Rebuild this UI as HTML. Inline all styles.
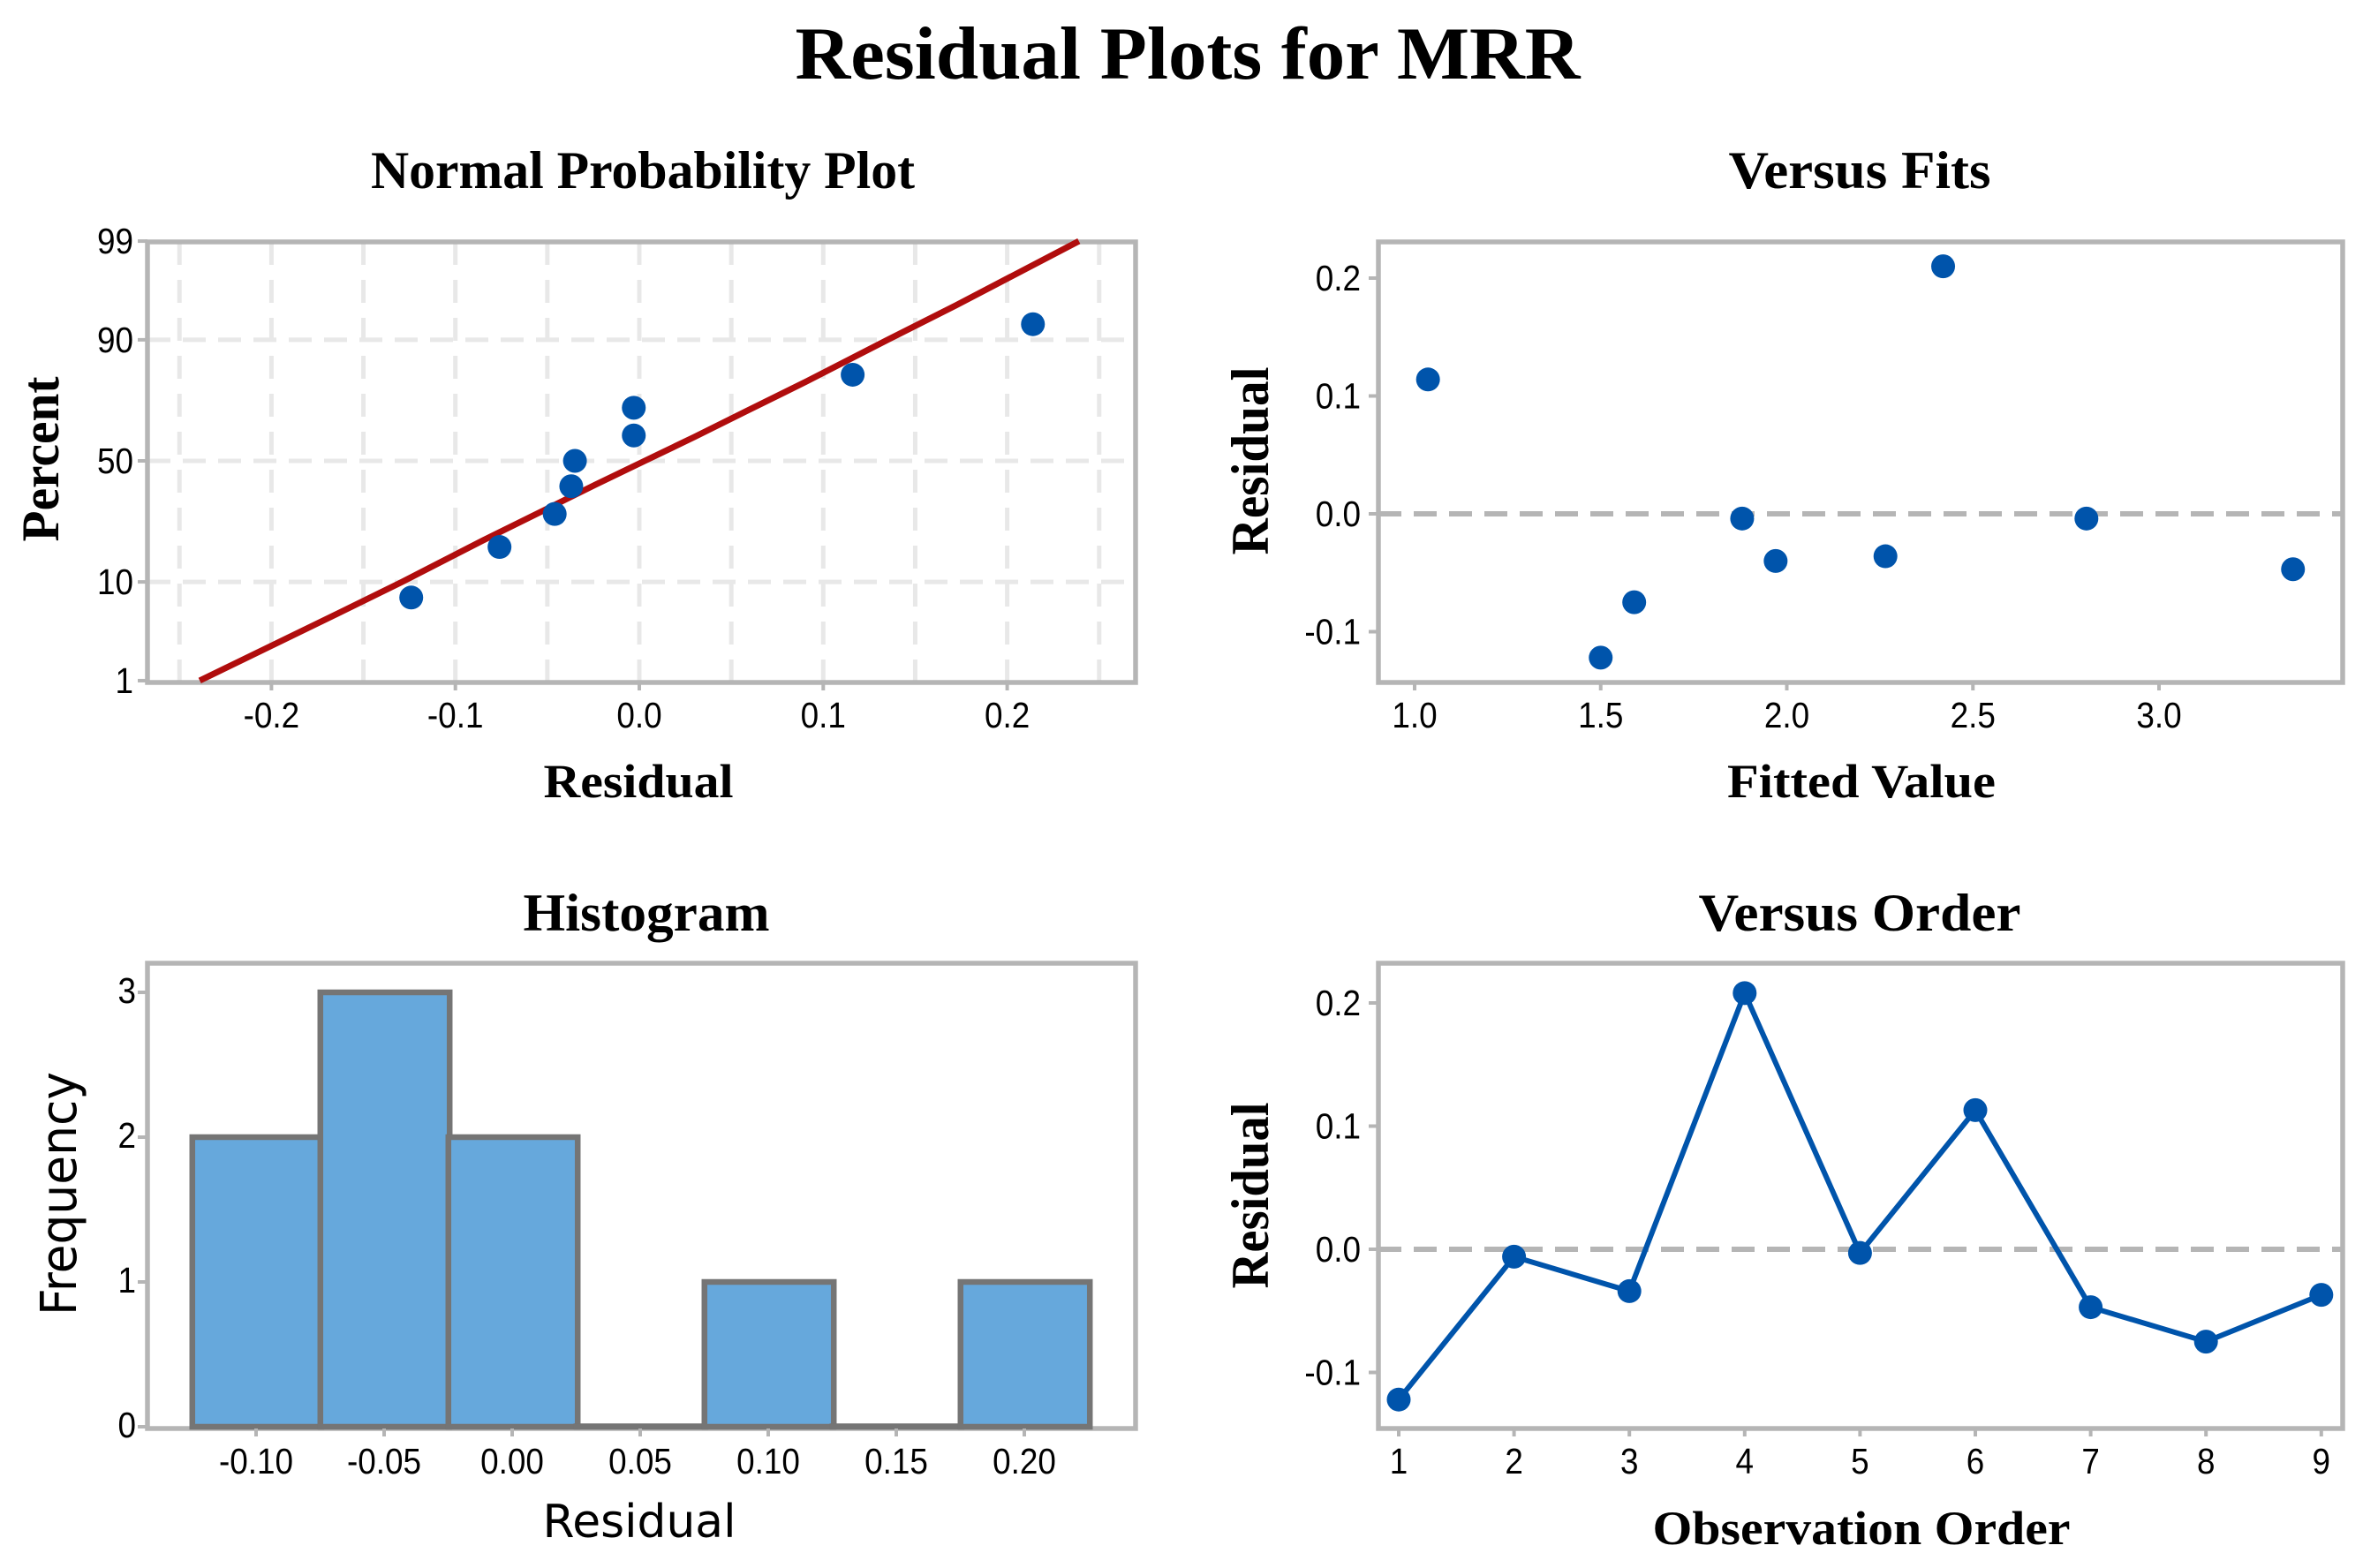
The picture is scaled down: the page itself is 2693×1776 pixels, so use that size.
<!DOCTYPE html>
<html lang="en">
<head>
<meta charset="utf-8">
<title>Residual Plots for MRR</title>
<style>
html,body{margin:0;padding:0;background:#fff;}
svg{display:block;}
text{fill:#000;}
.serif{font-family:"Liberation Serif",serif;font-weight:bold;}
.tick{font-family:"Liberation Sans",sans-serif;font-size:41px;}
.hand{font-family:"DejaVu Sans",sans-serif;}
</style>
</head>
<body>
<svg id="chart" xmlns="http://www.w3.org/2000/svg" width="2693" height="1776" viewBox="0 0 2693 1776">
  <rect x="0" y="0" width="2693" height="1776" fill="#fff"/>
  <text class="serif" x="1345" y="89" font-size="85" text-anchor="middle" textLength="889" lengthAdjust="spacingAndGlyphs">Residual Plots for MRR</text>

  <text class="serif" x="728" y="213" font-size="60" text-anchor="middle" textLength="616" lengthAdjust="spacingAndGlyphs">Normal Probability Plot</text>
  <text class="serif" x="2106" y="213" font-size="60" text-anchor="middle" textLength="297" lengthAdjust="spacingAndGlyphs">Versus Fits</text>
  <text class="serif" x="732" y="1054" font-size="60" text-anchor="middle" textLength="279" lengthAdjust="spacingAndGlyphs">Histogram</text>
  <text class="serif" x="2106" y="1054" font-size="60" text-anchor="middle" textLength="365" lengthAdjust="spacingAndGlyphs">Versus Order</text>

  <text class="serif" x="723" y="903" font-size="54" text-anchor="middle" textLength="215" lengthAdjust="spacingAndGlyphs">Residual</text>
  <text class="serif" x="2108" y="903" font-size="54" text-anchor="middle" textLength="304" lengthAdjust="spacingAndGlyphs">Fitted Value</text>
  <text class="hand" x="724" y="1741" font-size="52" text-anchor="middle" textLength="219" lengthAdjust="spacingAndGlyphs">Residual</text>
  <text class="serif" x="2108" y="1749" font-size="54" text-anchor="middle" textLength="473" lengthAdjust="spacingAndGlyphs">Observation Order</text>

  <text class="serif" transform="translate(66,520) rotate(-90)" font-size="60" text-anchor="middle" textLength="187" lengthAdjust="spacingAndGlyphs">Percent</text>
  <text class="serif" transform="translate(1436,522) rotate(-90)" font-size="60" text-anchor="middle" textLength="213" lengthAdjust="spacingAndGlyphs">Residual</text>
  <text class="hand" transform="translate(86,1352) rotate(-90)" font-size="56" text-anchor="middle" textLength="276" lengthAdjust="spacingAndGlyphs">Frequency</text>
  <text class="serif" transform="translate(1436,1354) rotate(-90)" font-size="60" text-anchor="middle" textLength="211" lengthAdjust="spacingAndGlyphs">Residual</text>
</svg>
<script>
// ---- Data: normal probability plot ----
const nppResiduals = [-0.124, -0.076, -0.046, -0.037, -0.035, -0.003, -0.003, 0.116, 0.214];
const nppPercents = [7.4, 18.1, 28.7, 39.4, 50, 60.6, 71.3, 81.9, 92.6];
const nppFitPercents = [1, 5, 10, 20, 30, 40, 50, 60, 70, 80, 90, 95, 99];
const nppFitResiduals = [-0.239, -0.167, -0.129, -0.085, -0.052, -0.024, 0.003, 0.030, 0.058, 0.091, 0.135, 0.172, 0.239];
const nppXTicks = [-0.2, -0.1, 0.0, 0.1, 0.2];
const nppXTickLabels = ['-0.2', '-0.1', '0.0', '0.1', '0.2'];
const nppXGrid = [-0.25, -0.2, -0.15, -0.1, -0.05, 0, 0.05, 0.1, 0.15, 0.2, 0.25];
const nppYTicks = [1, 10, 50, 90, 99];
const nppYGrid = [10, 50, 90];

// ---- Data: versus fits ----
const fitsFitted = [1.036, 1.5, 1.59, 1.88, 1.97, 2.265, 2.42, 2.805, 3.36];
const fitsResiduals = [0.114, -0.122, -0.075, -0.004, -0.04, -0.036, 0.21, -0.004, -0.047];
const fitsXTicks = [1.0, 1.5, 2.0, 2.5, 3.0];
const fitsXTickLabels = ['1.0', '1.5', '2.0', '2.5', '3.0'];
const residualTicks = [-0.1, 0.0, 0.1, 0.2];
const residualTickLabels = ['-0.1', '0.0', '0.1', '0.2'];

// ---- Data: histogram ----
const histBinCenters = [-0.10, -0.05, 0.00, 0.05, 0.10, 0.15, 0.20];
const histCounts = [2, 3, 2, 0, 1, 0, 1];
const histBinWidth = 0.0505;
const histXTickLabels = ['-0.10', '-0.05', '0.00', '0.05', '0.10', '0.15', '0.20'];
const histYTicks = [0, 1, 2, 3];

// ---- Data: versus order ----
const orderIndex = [1, 2, 3, 4, 5, 6, 7, 8, 9];
const orderResiduals = [-0.122, -0.006, -0.034, 0.208, -0.003, 0.113, -0.047, -0.075, -0.037];

// ---- Axis functions ----
function probit(p) {
  // Acklam's rational approximation to the inverse normal CDF
  const a = [-39.69683028665376, 220.9460984245205, -275.9285104469687, 138.3577518672690, -30.66479806614716, 2.506628277459239];
  const b = [-54.47609879822406, 161.5858368580409, -155.6989798598866, 66.80131188771972, -13.28068155288572];
  const c = [-0.007784894002430293, -0.3223964580411365, -2.400758277161838, -2.549732539343734, 4.374664141464968, 2.938163982698783];
  const d = [0.007784695709041462, 0.3224671290700398, 2.445134137142996, 3.754408661907416];
  if (p < 0.02425) {
    const q = Math.sqrt(-2 * Math.log(p));
    return (((((c[0]*q+c[1])*q+c[2])*q+c[3])*q+c[4])*q+c[5]) / ((((d[0]*q+d[1])*q+d[2])*q+d[3])*q+1);
  }
  if (p > 1 - 0.02425) {
    return -probit(1 - p);
  }
  const q = p - 0.5, r = q * q;
  return (((((a[0]*r+a[1])*r+a[2])*r+a[3])*r+a[4])*r+a[5])*q / (((((b[0]*r+b[1])*r+b[2])*r+b[3])*r+b[4])*r+1);
}
const nppX = v => 724 + v * 2083;
const nppY = p => 522 - probit(p / 100) * 107;
const fitsX = v => 1602 + (v - 1) * 421.5;
const fitsY = v => 582 - v * 1335;
const histX = v => 581 + v * 2900;
const histY = v => 1616 - v * 164;
const orderX = v => 1584 + (v - 1) * 130.6;
const orderY = v => 1415 - v * 1395;

// ---- Panel frames ----
const LEFT = 167, RIGHT = 1286, LEFT2 = 1561, RIGHT2 = 2653;
const TOP1 = 274, BOTTOM1 = 773, TOP2 = 1091, BOTTOM2 = 1618;

const FRAME = '#B5B5B5', GRID = '#E8E8E8', BLUE = '#0054AB', RED = '#B00D0D';
const root = document.getElementById('chart');

function mk(tag, attrs) {
  const el = document.createElementNS('http://www.w3.org/2000/svg', tag);
  for (const k in attrs) el.setAttribute(k, attrs[k]);
  root.appendChild(el);
  return el;
}
function seg(x1, y1, x2, y2, stroke, w, dash) {
  const el = mk('line', {x1, y1, x2, y2, stroke, 'stroke-width': w});
  if (dash) el.setAttribute('stroke-dasharray', dash);
  return el;
}
function label(x, y, str, anchor) {
  const el = mk('text', {x, y, 'text-anchor': anchor});
  el.setAttribute('class', 'tick');
  el.textContent = str;
  const w = el.getComputedTextLength();
  if (w > 0) {
    el.setAttribute('textLength', (w * 0.9).toFixed(1));
    el.setAttribute('lengthAdjust', 'spacingAndGlyphs');
  }
  return el;
}
function dot(x, y) {
  return mk('circle', {cx: x, cy: y, r: 13.5, fill: BLUE});
}
function polyPoints(xs, ys, fx, fy) {
  return xs.map((v, i) => fx(v).toFixed(1) + ',' + fy(ys[i]).toFixed(1)).join(' ');
}

// ---- Normal probability plot ----
nppXGrid.forEach(v => {
  const el = seg(nppX(v), TOP1, nppX(v), BOTTOM1, GRID, 5, '26 17');
  
  
});
nppYGrid.forEach(p => {
  const el = seg(LEFT, nppY(p), RIGHT, nppY(p), GRID, 5, '26 14');
  
  
});

[[LEFT, TOP1, RIGHT, BOTTOM1, 'normal-plot-frame'],
 [LEFT2, TOP1, RIGHT2, BOTTOM1, 'fits-plot-frame'],
 [LEFT, TOP2, RIGHT, BOTTOM2, 'histogram-plot-frame'],
 [LEFT2, TOP2, RIGHT2, BOTTOM2, 'order-plot-frame']].forEach(f => {
  const el = mk('rect', {x: f[0], y: f[1], width: f[2] - f[0], height: f[3] - f[1], fill: 'none', stroke: FRAME, 'stroke-width': 5.5});
  
  
});

nppXTicks.forEach((v, i) => {
  const t = seg(nppX(v), BOTTOM1, nppX(v), BOTTOM1 + 9, FRAME, 4);
  
  
  const l = label(nppX(v), 824, nppXTickLabels[i], 'middle');
  
  
});
nppYTicks.forEach(p => {
  const t = seg(LEFT - 11, nppY(p), LEFT, nppY(p), FRAME, 4);
  
  
  const l = label(151, nppY(p) + 14, String(p), 'end');
  
  
});
const fitLine = mk('polyline', {points: polyPoints(nppFitResiduals, nppFitPercents, nppX, nppY), fill: 'none', stroke: RED, 'stroke-width': 7});


nppResiduals.forEach((v, i) => {
  const el = dot(nppX(v), nppY(nppPercents[i]));
  
  
});

// ---- Versus fits ----
const fitsZero = seg(LEFT2, fitsY(0), RIGHT2, fitsY(0), FRAME, 6, '26 14');


fitsXTicks.forEach((v, i) => {
  const t = seg(fitsX(v), BOTTOM1, fitsX(v), BOTTOM1 + 9, FRAME, 4);
  
  
  const l = label(fitsX(v), 824, fitsXTickLabels[i], 'middle');
  
  
});
residualTicks.forEach((v, i) => {
  const t = seg(LEFT2 - 11, fitsY(v), LEFT2, fitsY(v), FRAME, 4);
  
  
  const l = label(1541, fitsY(v) + 14, residualTickLabels[i], 'end');
  
  
});
fitsFitted.forEach((v, i) => {
  const el = dot(fitsX(v), fitsY(fitsResiduals[i]));
  
  
});

// ---- Histogram ----
histBinCenters.forEach((c, i) => {
  const x0 = histX(c - histBinWidth / 2), x1 = histX(c + histBinWidth / 2);
  const h = Math.max(histY(0) - histY(histCounts[i]), 0.5);
  const el = mk('rect', {x: x0, y: histY(0) - h, width: x1 - x0, height: h, fill: '#66A8DC', stroke: '#757575', 'stroke-width': 6.5});
  
  
  const t = seg(histX(c) - 1, BOTTOM2, histX(c) - 1, BOTTOM2 + 9, FRAME, 4);
  
  
  const l = label(histX(c) - 1, 1669, histXTickLabels[i], 'middle');
  
  
});
histYTicks.forEach(v => {
  const t = seg(LEFT - 11, histY(v), LEFT, histY(v), FRAME, 4);
  
  
  const l = label(154, histY(v) + 12, String(v), 'end');
  
  
});

// ---- Versus order ----
const orderZero = seg(LEFT2, orderY(0), RIGHT2, orderY(0), FRAME, 6, '26 14');


orderIndex.forEach(v => {
  const t = seg(orderX(v), BOTTOM2, orderX(v), BOTTOM2 + 9, FRAME, 4);
  
  
  const l = label(orderX(v), 1669, String(v), 'middle');
  
  
});
residualTicks.forEach((v, i) => {
  const t = seg(LEFT2 - 11, orderY(v), LEFT2, orderY(v), FRAME, 4);
  
  
  const l = label(1541, orderY(v) + 14, residualTickLabels[i], 'end');
  
  
});
const orderLine = mk('polyline', {points: polyPoints(orderIndex, orderResiduals, orderX, orderY), fill: 'none', stroke: BLUE, 'stroke-width': 6});


orderIndex.forEach((v, i) => {
  const el = dot(orderX(v), orderY(orderResiduals[i]));
  
  
});
</script>
</body>
</html>
